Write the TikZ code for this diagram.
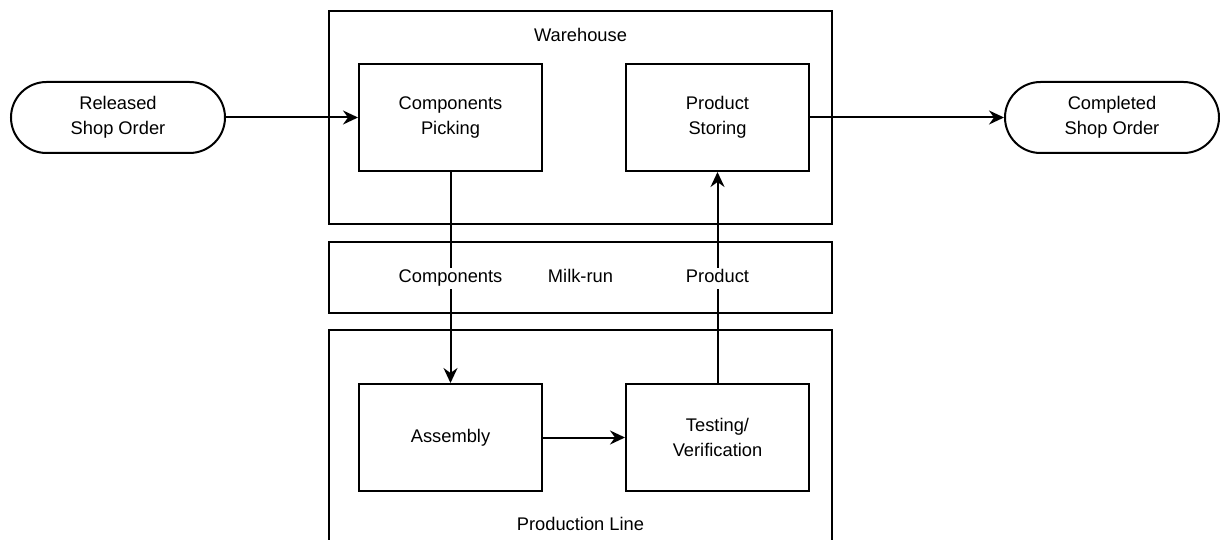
\documentclass[tikz,border=0pt]{standalone}
\usepackage{fontspec}
\setmainfont{Liberation Sans}
\usetikzlibrary{arrows.meta}
\begin{document}
\begin{tikzpicture}[x=1pt,y=-1pt,
  every node/.style={font=\fontsize{18.3}{25}\selectfont, align=center},
  line/.style={line width=2pt, draw=black},
  flow/.style={line, -{Stealth[length=15pt,width=14pt,inset=5pt]}},
  area/.style={line, rectangle},
  stepbox/.style={line, rectangle, minimum width=183pt, minimum height=107pt, inner sep=0pt},
  terminal/.style={line, rounded corners=35.5pt, minimum width=214pt, minimum height=71pt, inner sep=0pt},
  oneline/.style={text height=13pt, text depth=4pt},
  edgelabel/.style={oneline, fill=white, inner sep=2pt}]
  \useasboundingbox (0,0) rectangle (1220,540);
  \clip (0,0) rectangle (1220,540);

  % swimlane-style areas
  \draw[area] (329,11.5) rectangle (832,224);
  \draw[area] (329,242) rectangle (832,313);
  \draw[area] (329,330) rectangle (832,560);
  \node[oneline] (wh) at (580.5,37) {Warehouse};
  \node[oneline] (mr) at (580.5,278) {Milk-run};
  \node[oneline] (pl) at (580.5,526) {Production Line};

  % start and end terminals
  \node[terminal] (rel) at (118,117.5) {Released\\Shop Order};
  \node[terminal] (cmp) at (1112,117.5) {Completed\\Shop Order};

  % process steps
  \node[stepbox] (pick) at (450.5,117.5) {Components\\Picking};
  \node[stepbox] (store) at (717.5,117.5) {Product\\Storing};
  \node[stepbox] (asm) at (450.5,437.5) {Assembly};
  \node[stepbox] (test) at (717.5,437.5) {Testing/\\Verification};

  % connectors
  \draw[flow] (rel) -- (pick);
  \draw[flow] (store) -- (cmp);
  \draw[flow] (pick) -- node[edgelabel, pos=0.503] (lc) {Components} (asm);
  \draw[flow] (asm) -- (test);
  \draw[flow] (test) -- node[edgelabel, pos=0.497] (lp) {Product} (store);
\end{tikzpicture}
\end{document}
